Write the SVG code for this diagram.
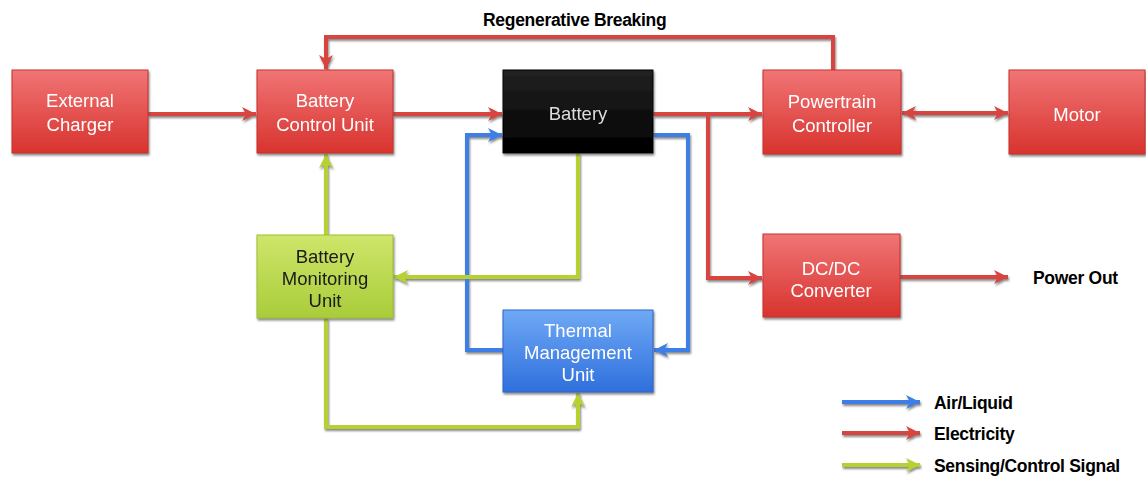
<svg xmlns="http://www.w3.org/2000/svg" width="1146" height="482" viewBox="0 0 1146 482">
<style>
.nt{font-family:"Liberation Sans",Arial,sans-serif;font-size:18.5px;fill:#ffffff;text-anchor:middle}
.dk{fill:#1a1a1a}
.lb{font-family:"Liberation Sans",Arial,sans-serif;font-size:17.5px;font-weight:bold;fill:#000;letter-spacing:-0.3px}
.c{fill:none;stroke-width:4;stroke-linejoin:miter}
.r{stroke:#d8443f}
.b{stroke:#3d7fe6}
.g{stroke:#b5d132}
</style>
<defs>
<linearGradient id="gr" x1="0" y1="0" x2="0" y2="1"><stop offset="0" stop-color="#f07575"/><stop offset="1" stop-color="#d8332e"/></linearGradient>
<linearGradient id="gk" x1="0" y1="0" x2="0" y2="1"><stop offset="0" stop-color="#222"/><stop offset="1" stop-color="#000"/></linearGradient>
<linearGradient id="gg" x1="0" y1="0" x2="0" y2="1"><stop offset="0" stop-color="#cfe66a"/><stop offset="1" stop-color="#a9cc3a"/></linearGradient>
<linearGradient id="gb" x1="0" y1="0" x2="0" y2="1"><stop offset="0" stop-color="#6fa9f5"/><stop offset="1" stop-color="#2f6fdc"/></linearGradient>
<filter id="sh" x="-10%" y="-10%" width="130%" height="140%"><feDropShadow dx="1" dy="2" stdDeviation="0.8" flood-color="#555" flood-opacity="0.7"/></filter>
<marker id="ar" markerUnits="userSpaceOnUse" markerWidth="16" markerHeight="16" refX="14" refY="8" orient="auto-start-reverse"><path d="M0,1 L14,8 L0,15 L4,8 z" fill="#d8443f"/></marker>
<marker id="ab" markerUnits="userSpaceOnUse" markerWidth="16" markerHeight="16" refX="14" refY="8" orient="auto"><path d="M0,1 L14,8 L0,15 L4,8 z" fill="#3d7fe6"/></marker>
<marker id="ag" markerUnits="userSpaceOnUse" markerWidth="16" markerHeight="16" refX="14" refY="8" orient="auto"><path d="M0,1 L14,8 L0,15 L4,8 z" fill="#b5d132"/></marker>
</defs>
<rect width="1146" height="482" fill="#ffffff"/>
<g id="connectors" filter="url(#sh)">
<polyline class="c r" points="833,70 833,37 326,37 326,69" marker-end="url(#ar)"/>
<line class="c r" x1="148" y1="114" x2="256" y2="114" marker-end="url(#ar)"/>
<line class="c r" x1="393" y1="114" x2="502" y2="114" marker-end="url(#ar)"/>
<line class="c r" x1="653" y1="114" x2="762" y2="114" marker-end="url(#ar)"/>
<polyline class="c r" points="708,114 708,278 762,278" marker-end="url(#ar)"/>
<line class="c r" x1="900" y1="277" x2="1008" y2="277" marker-end="url(#ar)"/>
<line class="c r" x1="902" y1="113" x2="1008" y2="113" marker-start="url(#ar)" marker-end="url(#ar)"/>
<polyline class="c b" points="503,350 467,350 467,135 502,135" marker-end="url(#ab)"/>
<polyline class="c b" points="653,135 688,135 688,350 654,350" marker-end="url(#ab)"/>
<polyline class="c g" points="578,153 578,277 394,277" marker-end="url(#ag)"/>
<line class="c g" x1="326" y1="235" x2="326" y2="154" marker-end="url(#ag)"/>
<polyline class="c g" points="326,318 326,427 578,427 578,393" marker-end="url(#ag)"/>
<line class="c b" x1="842" y1="402" x2="920" y2="402" marker-end="url(#ab)"/>
<line class="c r" x1="842" y1="433" x2="920" y2="433" marker-end="url(#ar)"/>
<line class="c g" x1="842" y1="465" x2="920" y2="465" marker-end="url(#ag)"/>
</g>
<g id="ext" filter="url(#sh)"><rect x="12" y="70" width="136" height="83" fill="url(#gr)" stroke="#c8302b"/><text class="nt" x="80" y="107">External</text><text class="nt" x="80" y="131">Charger</text></g>
<g id="bcu" filter="url(#sh)"><rect x="257" y="70" width="136" height="83" fill="url(#gr)" stroke="#c8302b"/><text class="nt" x="325" y="107">Battery</text><text class="nt" x="325" y="131">Control Unit</text></g>
<g id="battery" filter="url(#sh)"><rect x="503" y="70" width="150" height="83" fill="url(#gk)" stroke="#000"/><text class="nt" x="578" y="120" style="fill:#dddddd">Battery</text></g>
<g id="ptc" filter="url(#sh)"><rect x="763" y="70" width="138" height="84" fill="url(#gr)" stroke="#c8302b"/><text class="nt" x="832" y="108">Powertrain</text><text class="nt" x="832" y="132">Controller</text></g>
<g id="motor" filter="url(#sh)"><rect x="1009" y="70" width="136" height="84" fill="url(#gr)" stroke="#c8302b"/><text class="nt" x="1077" y="121">Motor</text></g>
<g id="bmu" filter="url(#sh)"><rect x="257" y="235" width="136" height="83" fill="url(#gg)" stroke="#9fbf30"/><text class="nt dk" x="325" y="263">Battery</text><text class="nt dk" x="325" y="285">Monitoring</text><text class="nt dk" x="325" y="307">Unit</text></g>
<g id="tmu" filter="url(#sh)"><rect x="503" y="310" width="150" height="82" fill="url(#gb)" stroke="#2c66cc"/><text class="nt" x="578" y="337">Thermal</text><text class="nt" x="578" y="359">Management</text><text class="nt" x="578" y="381">Unit</text></g>
<g id="dcdc" filter="url(#sh)"><rect x="763" y="234" width="137" height="83" fill="url(#gr)" stroke="#c8302b"/><text class="nt" x="831" y="275">DC/DC</text><text class="nt" x="831" y="297">Converter</text></g>
<text class="lb" x="483" y="26">Regenerative Breaking</text>
<text class="lb" x="1033" y="284">Power Out</text>
<text class="lb" x="934" y="409">Air/Liquid</text>
<text class="lb" x="934" y="440">Electricity</text>
<text class="lb" x="934" y="472">Sensing/Control Signal</text>
</svg>
